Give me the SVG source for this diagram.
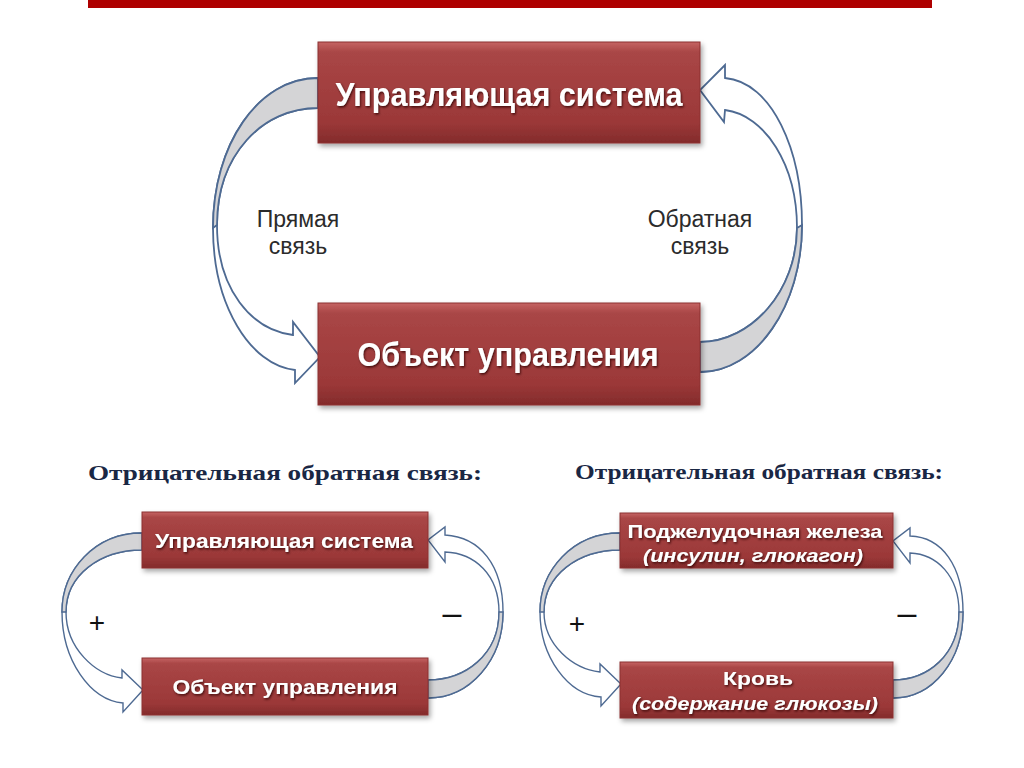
<svg xmlns="http://www.w3.org/2000/svg" width="1024" height="768" viewBox="0 0 1024 768">
  <defs>
    <linearGradient id="boxGrad" x1="0" y1="0" x2="0" y2="1">
      <stop offset="0" stop-color="#C56463"/>
      <stop offset="0.1" stop-color="#A94646"/>
      <stop offset="0.8" stop-color="#9B3838"/>
      <stop offset="1" stop-color="#832B2B"/>
    </linearGradient>
    <filter id="boxShadow" x="-10%" y="-20%" width="130%" height="150%">
      <feDropShadow dx="2" dy="3" stdDeviation="2.5" flood-color="#000" flood-opacity="0.35"/>
    </filter>
    <filter id="textShadow" x="-10%" y="-30%" width="120%" height="160%">
      <feDropShadow dx="1" dy="1.5" stdDeviation="0.8" flood-color="#2A0000" flood-opacity="0.8"/>
    </filter>
  </defs>
  <style>
    .box { fill: url(#boxGrad); stroke: #8C3030; stroke-width: 1; filter: url(#boxShadow); }
    .btxt { font-family: "Liberation Sans", Arial, sans-serif; font-weight: bold; fill: #FFFFFF; text-anchor: middle; filter: url(#textShadow); }
    .it { font-style: italic; }
    .arrow { fill: #FFFFFF; stroke: #4E6A92; stroke-width: 1.8; stroke-linejoin: miter; }
    .arrowS { fill: #FFFFFF; stroke: #4E6A92; stroke-width: 1.4; stroke-linejoin: miter; }
    .back { fill: #D4D4D6; stroke: #4E6A92; stroke-width: 1.8; }
    .backS { fill: #D4D4D6; stroke: #4E6A92; stroke-width: 1.4; }
    .lbl { font-family: "Liberation Sans", Arial, sans-serif; font-size: 23px; fill: #2B2B2B; text-anchor: middle; }
    .title { font-family: "Liberation Serif", "Times New Roman", serif; font-weight: bold; font-size: 22px; fill: #1A2744; }
    .sign { font-family: "Liberation Sans", Arial, sans-serif; fill: #111111; text-anchor: middle; }
  </style>

  <rect x="0" y="0" width="1024" height="768" fill="#FFFFFF"/>
  <rect id="topbar" x="88" y="0" width="844" height="8" fill="#AE0000"/>

  <g id="connectors">
    <!-- big left: Прямая связь -->
    <path class="arrow" d="M 318,78 C 258,78 213,145 213,228 C 213,305 250,365 295,370 L 295,383 L 320,357 L 293,322 L 293,335 C 252,330 217,290 217,225 C 217,155 262,108 318,108 Z"/>
    <path class="back" d="M 318,78 C 258,78 213,145 213,228 L 217,225 C 217,155 262,108 318,108 Z"/>
    <!-- big right: Обратная связь -->
    <path class="arrow" d="M 700,372 C 756,372 802,306 802,225 C 802,150 772,82 725,78 L 725,65 L 700,90 L 724,122 L 725,110 C 765,115 797,165 797,228 C 797,290 752,342 700,342 Z"/>
    <path class="back" d="M 700,372 C 756,372 802,306 802,225 L 797,228 C 797,290 752,342 700,342 Z"/>
    <!-- small diagram 1 -->
    <path class="arrowS" d="M 142,533 C 95,533 62,570 62,612 C 62,660 90,700 123,703 L 123,712 L 143,690 L 122,670 L 122,678 C 95,675 66,648 66,612 C 66,575 100,550 142,550 Z"/>
    <path class="backS" d="M 142,533 C 95,533 62,570 62,612 L 66,612 C 66,575 100,550 142,550 Z"/>
    <path class="arrowS" d="M 428,698 C 470,698 503,660 503,612 C 503,565 480,537 445,535 L 445,527 L 428,540 L 445,562 L 445,552 C 475,553 499,575 499,612 C 499,655 465,680 428,680 Z"/>
    <path class="backS" d="M 428,698 C 470,698 503,660 503,612 L 499,612 C 499,655 465,680 428,680 Z"/>
    <!-- small diagram 2 -->
    <path class="arrowS" d="M 620,533 C 573,533 540,570 540,612 C 540,657 568,695 601,697 L 601,706 L 621,684 L 600,664 L 600,672 C 573,669 544,645 544,612 C 544,575 578,550 620,550 Z"/>
    <path class="backS" d="M 620,533 C 573,533 540,570 540,612 L 544,612 C 544,575 578,550 620,550 Z"/>
    <path class="arrowS" d="M 893,698 C 933,698 963,660 963,612 C 963,566 942,537 910,536 L 910,528 L 893,541 L 910,563 L 910,553 C 937,554 959,576 959,612 C 959,655 928,680 893,680 Z"/>
    <path class="backS" d="M 893,698 C 933,698 963,660 963,612 L 959,612 C 959,655 928,680 893,680 Z"/>
  </g>

  <g id="labels">
    <text class="lbl" x="298" y="227">Прямая</text>
    <text class="lbl" x="298" y="254">связь</text>
    <text class="lbl" x="700" y="227">Обратная</text>
    <text class="lbl" x="700" y="254">связь</text>
    <text class="title" x="88" y="480" textLength="394" lengthAdjust="spacingAndGlyphs">Отрицательная обратная связь:</text>
    <text class="title" x="575" y="479" textLength="368" lengthAdjust="spacingAndGlyphs">Отрицательная обратная связь:</text>
    <text class="sign" x="97" y="632" font-size="28">+</text>
    <text class="sign" x="452" y="624" font-size="34">–</text>
    <text class="sign" x="577" y="633" font-size="28">+</text>
    <text class="sign" x="907" y="624" font-size="34">–</text>
  </g>

  <g id="node-control-big">
    <rect class="box" x="318" y="42" width="382" height="101"/>
    <text class="btxt" x="509" y="106" font-size="33" textLength="347" lengthAdjust="spacingAndGlyphs">Управляющая система</text>
  </g>
  <g id="node-object-big">
    <rect class="box" x="318" y="303" width="382" height="102"/>
    <text class="btxt" x="508" y="366" font-size="33" textLength="301" lengthAdjust="spacingAndGlyphs">Объект управления</text>
  </g>

  <g id="node-control-small">
    <rect class="box" x="142" y="512" width="286" height="56"/>
    <text class="btxt" x="284" y="548" font-size="20" textLength="258" lengthAdjust="spacingAndGlyphs">Управляющая система</text>
  </g>
  <g id="node-object-small">
    <rect class="box" x="142" y="658" width="286" height="57"/>
    <text class="btxt" x="285" y="694" font-size="20" textLength="225" lengthAdjust="spacingAndGlyphs">Объект управления</text>
  </g>

  <g id="node-pancreas">
    <rect class="box" x="620" y="513" width="273" height="55"/>
    <text class="btxt" x="755" y="538" font-size="19" textLength="255" lengthAdjust="spacingAndGlyphs">Поджелудочная железа</text>
    <text class="btxt it" x="753" y="562" font-size="19" textLength="220" lengthAdjust="spacingAndGlyphs">(инсулин, глюкагон)</text>
  </g>
  <g id="node-blood">
    <rect class="box" x="620" y="662" width="273" height="56"/>
    <text class="btxt" x="758" y="685" font-size="19" textLength="70" lengthAdjust="spacingAndGlyphs">Кровь</text>
    <text class="btxt it" x="755" y="710" font-size="19" textLength="246" lengthAdjust="spacingAndGlyphs">(содержание глюкозы)</text>
  </g>
</svg>
